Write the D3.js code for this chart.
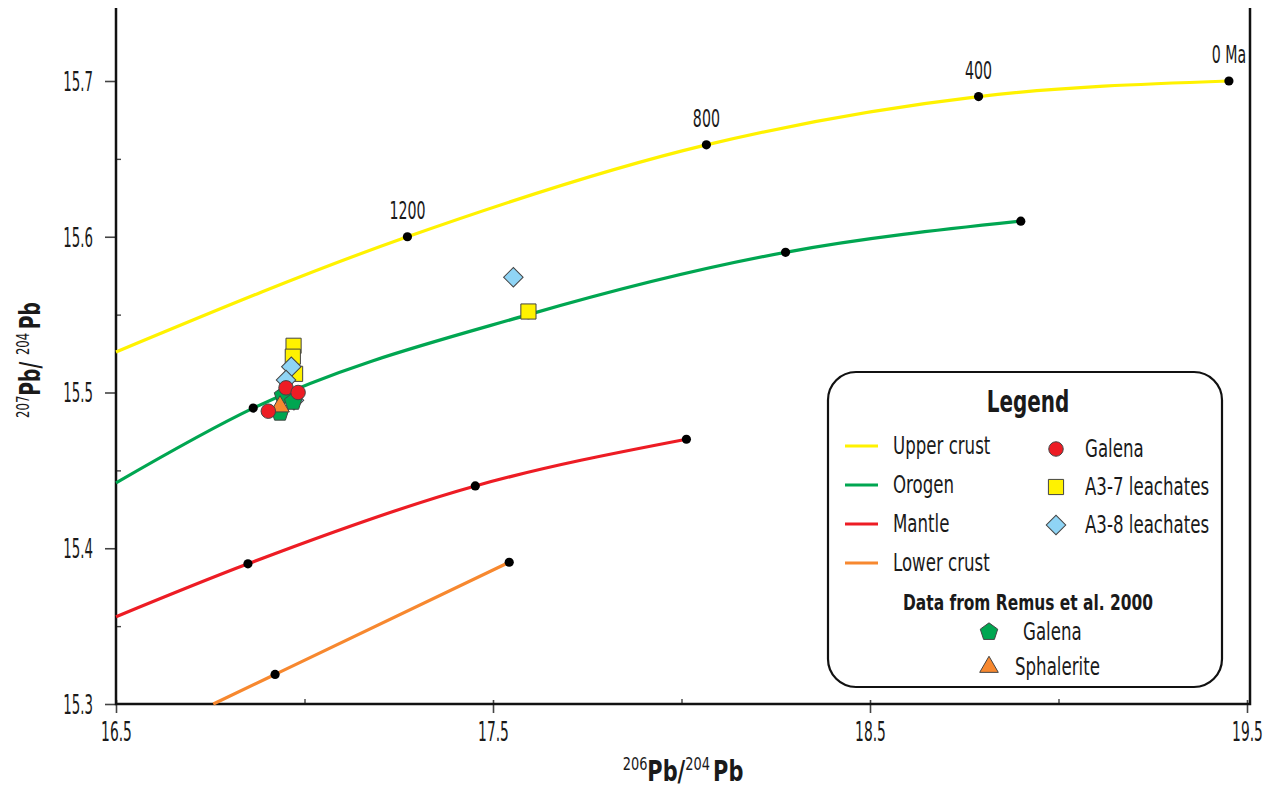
<!DOCTYPE html>
<html>
<head>
<meta charset="utf-8">
<script src="https://cdn.jsdelivr.net/npm/d3@7"></script>
<style>
  body { margin: 0; background: #fff; }
  svg text { font-family: "Liberation Sans Narrow", "DejaVu Sans Condensed", sans-serif; fill: #1a1a1a; }
</style>
</head>
<body>
<script>
"use strict";
// growth curves [206Pb/204Pb, 207Pb/204Pb]; first point is where the curve leaves the frame, the rest are age marks
const upperCrust = [[16.5, 15.526], [17.273, 15.600], [18.066, 15.659], [18.788, 15.690], [19.452, 15.700]];
const orogen = [[16.5, 15.442], [16.864, 15.490], [17.594, 15.550], [18.276, 15.590], [18.900, 15.610]];
const mantle = [[16.5, 15.356], [16.850, 15.390], [17.453, 15.440], [18.013, 15.470]];
const lowerCrust = [[16.758, 15.300], [16.922, 15.319], [17.543, 15.391]];
const ageLabels = ["1200", "800", "400", "0 Ma"];   // on the upper crust marks

// samples
const galena = [[16.951, 15.503], [16.983, 15.500], [16.904, 15.488]];
const a37 = [[16.971, 15.530], [16.969, 15.523], [16.975, 15.512], [17.594, 15.552]];
const a38 = [[16.965, 15.5165], [16.951, 15.508], [16.972, 15.495], [17.554, 15.574]];
const remusGalena = [[16.943, 15.498], [16.970, 15.494], [16.935, 15.487]];
const remusSphalerite = [[16.935, 15.491]];

const xTicks = [16.5, 17.5, 18.5, 19.5];
const xMinor = [17.0, 18.0, 19.0];
const yTicks = [15.3, 15.4, 15.5, 15.6, 15.7];
const yMinor = [15.35, 15.45, 15.55, 15.65];

const colors = { upper: "#fff200", orogen: "#00a651", mantle: "#ed1c24", lower: "#f7882f",
                 galena: "#ed1c24", a37: "#fff200", a38: "#8fd4f5" };

const W = 1274, H = 788;
const frame = { left: 116, right: 1250, top: 8, bottom: 704 };

const svg = d3.select("body").append("svg").attr("width", W).attr("height", H);

const x = d3.scaleLinear().domain([16.5, 19.5]).range([116, 1247]);
const y = d3.scaleLinear().domain([15.3, 15.7]).range([704, 81]);

// the reference font is very narrow; squeeze glyphs horizontally
function squeeze(sel, f) {
  sel.each(function() {
    const w = this.getComputedTextLength();
    this.setAttribute("textLength", w * f);
    this.setAttribute("lengthAdjust", "spacingAndGlyphs");
  });
}

// axes
const tickSqueeze = 0.57;
const gy = svg.append("g").attr("transform", `translate(${frame.left},0)`)
  .call(d3.axisLeft(y).tickValues(yTicks).tickSize(11).tickSizeOuter(0).tickFormat(d3.format(".1f")));
gy.select(".domain").remove();
gy.selectAll(".tick line").attr("stroke", "#444").attr("stroke-width", 1.6);
gy.selectAll(".tick text").attr("x", -23 / tickSqueeze).attr("transform", `scale(${tickSqueeze},1)`)
  .style("font-size", "26px").attr("dy", "0.36em");

const gym = svg.append("g").attr("transform", `translate(${frame.left},0)`)
  .call(d3.axisLeft(y).tickValues(yMinor).tickSize(-5).tickFormat(""));
gym.select(".domain").remove();
gym.selectAll(".tick line").attr("stroke", "#444").attr("stroke-width", 1.4);

const gx = svg.append("g").attr("transform", `translate(0,${frame.bottom})`)
  .call(d3.axisBottom(x).tickValues(xTicks).tickSize(9).tickSizeOuter(0).tickFormat(d3.format(".1f")));
gx.select(".domain").remove();
gx.selectAll(".tick line").attr("y1", -4).attr("stroke", "#444").attr("stroke-width", 1.6);
gx.selectAll(".tick text").attr("y", 18).attr("transform", `scale(${tickSqueeze},1)`)
  .style("font-size", "27px").attr("dy", "0.71em");

const gxm = svg.append("g").attr("transform", `translate(0,${frame.bottom})`)
  .call(d3.axisBottom(x).tickValues(xMinor).tickSize(-5).tickFormat(""));
gxm.select(".domain").remove();
gxm.selectAll(".tick line").attr("stroke", "#444").attr("stroke-width", 1.4);

// frame lines (left, bottom, right)
svg.append("path")
  .attr("d", `M${frame.left},${frame.top}V${frame.bottom}H${frame.right}V${frame.top}`)
  .attr("fill", "none").attr("stroke", "#111").attr("stroke-width", 2.5);

// axis titles
const xt = svg.append("text").attr("transform", "translate(683,781) scale(0.8,1)").attr("text-anchor", "middle");
xt.append("tspan").text("206").style("font-size", "18px").attr("dy", "-11");
xt.append("tspan").text("Pb/").style("font-size", "29px").style("font-weight", "bold").attr("dy", "11");
xt.append("tspan").text("204").style("font-size", "18px").attr("dy", "-11");
xt.append("tspan").text("Pb").style("font-size", "29px").style("font-weight", "bold").attr("dy", "11").attr("dx", 4);

const yt = svg.append("text").attr("transform", "translate(40,360) rotate(-90) scale(0.72,1)").attr("text-anchor", "middle");
yt.append("tspan").text("207").style("font-size", "18px").attr("dy", "-11");
yt.append("tspan").text("Pb/ ").style("font-size", "29px").style("font-weight", "bold").attr("dy", "11");
yt.append("tspan").text("204").style("font-size", "18px").attr("dy", "-11");
yt.append("tspan").text("Pb").style("font-size", "29px").style("font-weight", "bold").attr("dy", "11").attr("dx", 5);

// growth curves
const line = d3.line().x(d => x(d[0])).y(d => y(d[1])).curve(d3.curveMonotoneX);
const curves = [
  { data: upperCrust, color: colors.upper },
  { data: orogen, color: colors.orogen },
  { data: mantle, color: colors.mantle },
  { data: lowerCrust, color: colors.lower }
];
curves.forEach(c => {
  svg.append("path").datum(c.data).attr("d", line)
    .attr("fill", "none").attr("stroke", c.color).attr("stroke-width", 3.2);
});
curves.forEach(c => {
  svg.selectAll(null).data(c.data.slice(1)).enter().append("circle")
    .attr("cx", d => x(d[0])).attr("cy", d => y(d[1])).attr("r", 4.6).attr("fill", "#000");
});

const ageSqueeze = 0.63;
svg.selectAll(".age").data(upperCrust.slice(1)).enter().append("text")
  .attr("class", "age")
  .attr("transform", d => `translate(${x(d[0])},${y(d[1]) - 18}) scale(${ageSqueeze},1)`)
  .attr("text-anchor", "middle").style("font-size", "25px")
  .text((d, i) => ageLabels[i]);

// sample symbols
const sym = {
  square: d3.symbol().type(d3.symbolSquare).size(230),
  diamond: d3.symbol().type(d3.symbolSquare).size(190),
  circle: d3.symbol().type(d3.symbolCircle).size(165),
  pentagon: d3.symbol().type({ draw(ctx, size) {
    const r = Math.sqrt(size / 2.378);
    for (let i = 0; i < 5; i++) {
      const a = -Math.PI / 2 + i * 2 * Math.PI / 5;
      if (i === 0) ctx.moveTo(r * Math.cos(a), r * Math.sin(a));
      else ctx.lineTo(r * Math.cos(a), r * Math.sin(a));
    }
    ctx.closePath();
  } }).size(200),
  triangle: d3.symbol().type(d3.symbolTriangle).size(150)
};
const sampleSets = [
  { data: a37, shape: "square", color: colors.a37, rot: 0 },
  { data: a38, shape: "diamond", color: colors.a38, rot: 45 },
  { data: remusGalena, shape: "pentagon", color: colors.orogen, rot: 0 },
  { data: remusSphalerite, shape: "triangle", color: colors.lower, rot: 0 },
  { data: galena, shape: "circle", color: colors.galena, rot: 0 }
];
sampleSets.forEach(s => {
  svg.selectAll(null).data(s.data).enter().append("path")
    .attr("d", sym[s.shape]())
    .attr("transform", d => `translate(${x(d[0])},${y(d[1])}) rotate(${s.rot})`)
    .attr("fill", s.color).attr("stroke", "#444").attr("stroke-width", 1);
});

// legend
const lg = svg.append("g");
lg.append("rect").attr("x", 828).attr("y", 372).attr("width", 394).attr("height", 315)
  .attr("rx", 28).attr("fill", "#fff").attr("stroke", "#111").attr("stroke-width", 2.2);
const lgTitle = lg.append("text").attr("x", 1028).attr("y", 412).attr("text-anchor", "middle")
  .style("font-size", "30px").style("font-weight", "bold").text("Legend");
squeeze(lgTitle, 0.74);

const lineItems = [
  { label: "Upper crust", color: colors.upper },
  { label: "Orogen", color: colors.orogen },
  { label: "Mantle", color: colors.mantle },
  { label: "Lower crust", color: colors.lower }
];
lineItems.forEach((it, i) => {
  const yy = 446 + i * 39;
  lg.append("line").attr("x1", 845).attr("x2", 878).attr("y1", yy).attr("y2", yy)
    .attr("stroke", it.color).attr("stroke-width", 3.2);
  lg.append("text").attr("class", "lgl").attr("x", 893).attr("y", yy).attr("dy", "0.35em")
    .style("font-size", "24px").text(it.label);
});

const symItems = [
  { label: "Galena", shape: "circle", color: colors.galena, rot: 0 },
  { label: "A3-7 leachates", shape: "square", color: colors.a37, rot: 0 },
  { label: "A3-8 leachates", shape: "diamond", color: colors.a38, rot: 45 }
];
symItems.forEach((it, i) => {
  const yy = 449 + i * 38;
  lg.append("path").attr("d", sym[it.shape]())
    .attr("transform", `translate(1056,${yy}) rotate(${it.rot})`)
    .attr("fill", it.color).attr("stroke", "#444").attr("stroke-width", 1);
  lg.append("text").attr("class", "lgl").attr("x", 1085).attr("y", yy).attr("dy", "0.35em")
    .style("font-size", "24px").text(it.label);
});

const remusTitle = lg.append("text").attr("x", 1028).attr("y", 602).attr("dy", "0.35em").attr("text-anchor", "middle")
  .style("font-size", "22px").style("font-weight", "bold").text("Data from Remus et al. 2000");
squeeze(remusTitle, 0.78);

const remusItems = [
  { label: "Galena", shape: "pentagon", color: colors.orogen, tx: 1023, yy: 632 },
  { label: "Sphalerite", shape: "triangle", color: colors.lower, tx: 1015, yy: 667 }
];
remusItems.forEach(it => {
  lg.append("path").attr("d", sym[it.shape]())
    .attr("transform", `translate(989,${it.yy})`)
    .attr("fill", it.color).attr("stroke", "#444").attr("stroke-width", 1);
  lg.append("text").attr("class", "lgl").attr("x", it.tx).attr("y", it.yy).attr("dy", "0.35em")
    .style("font-size", "24px").text(it.label);
});
squeeze(lg.selectAll(".lgl"), 0.77);
</script>
</body>
</html>
